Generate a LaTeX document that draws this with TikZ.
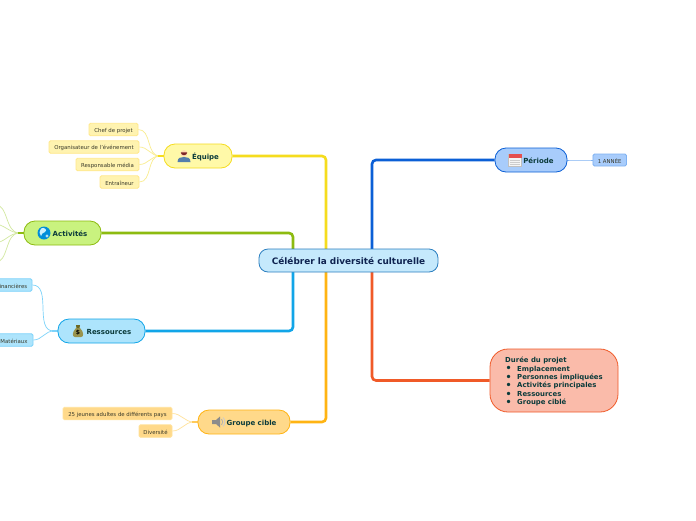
\documentclass[tikz,border=0pt]{standalone}
\usepackage{fontspec}
\setmainfont{DejaVu Sans}
\usetikzlibrary{backgrounds}
\definecolor{ctext}{HTML}{0F2350}
\definecolor{mtext}{HTML}{0B3B3B}
\definecolor{ltext}{HTML}{3A3A2A}
\definecolor{cfill}{HTML}{C5E9FC}\definecolor{cline}{HTML}{2B7FC0}
\definecolor{yfill}{HTML}{FFF9A8}\definecolor{yline}{HTML}{F5DC1E}\definecolor{ylf}{HTML}{FFF3B0}\definecolor{yll}{HTML}{FFE88A}
\definecolor{gfill}{HTML}{C9F27F}\definecolor{gline}{HTML}{8DBB10}\definecolor{gll}{HTML}{D2E8A0}
\definecolor{bfill}{HTML}{ADE4FC}\definecolor{bline}{HTML}{11A5E8}\definecolor{blf}{HTML}{ADE4FC}\definecolor{bll}{HTML}{7DD3FA}
\definecolor{ofill}{HTML}{FFD98A}\definecolor{oline}{HTML}{FFB413}\definecolor{oll}{HTML}{FFE29A}
\definecolor{pfill}{HTML}{A8CCFB}\definecolor{pline}{HTML}{0B5FD6}\definecolor{pll}{HTML}{7FB2F2}
\definecolor{rfill}{HTML}{FABBAA}\definecolor{rline}{HTML}{F05A28}
\newcommand{\lowered}[1]{\raisebox{-1.2pt}[\height][\depth]{#1}}
\newcommand{\bul}{\makebox[12pt][l]{\hspace*{0.5pt}\raisebox{-0.6pt}[0pt][0pt]{\fontsize{9.5}{8}\selectfont •}}}
\tikzset{
  central/.style={draw=cline,fill=cfill,line width=0.8pt,rounded corners=9pt,text=ctext,font=\bfseries\fontsize{8.9}{11}\selectfont,inner sep=0pt},
  mainnode/.style={rounded corners=11pt,line width=0.8pt,text=mtext,font=\bfseries\fontsize{7}{8.5}\selectfont,inner sep=0pt},
  leaf/.style={rounded corners=1.5pt,line width=0.8pt,text=ltext,font=\fontsize{5.4}{6}\selectfont,inner sep=0pt},
  branch/.style={line width=2.6pt,rounded corners=4pt},
  twig/.style={line width=0.7pt},
  stub/.style={line width=1.4pt},
}
\begin{document}
\begin{tikzpicture}[x=1pt,y=-1pt]
\useasboundingbox (0,0) rectangle (696,520);
\clip (0,0) rectangle (696,520);
% central
\node[central,minimum width=179pt,minimum height=23pt] (ctr) at (348.5,260.5) {\raisebox{-0.5pt}[\height][\depth]{Célébrer la diversité culturelle}};
\coordinate (cY) at (326,260);\coordinate (cG) at (293,260);\coordinate (cP) at (372,260);
% main nodes
\node[mainnode,draw=yline,fill=yfill,minimum width=68pt,minimum height=24pt] (eq) at (198,156) {\hspace*{15pt}\lowered{Équipe}};
\node[mainnode,draw=gline,fill=gfill,minimum width=77pt,minimum height=24pt] (ac) at (62.5,233) {\hspace*{15pt}\lowered{Activités}};
\node[mainnode,draw=bline,fill=bfill,minimum width=87pt,minimum height=24pt] (re) at (101.5,331) {\hspace*{15pt}\lowered{Ressources}};
\node[mainnode,draw=oline,fill=ofill,minimum width=92pt,minimum height=24pt] (gr) at (244,422) {\hspace*{15pt}\lowered{Groupe cible}};
\node[mainnode,draw=pline,fill=pfill,minimum width=72pt,minimum height=24pt] (pe) at (531,160) {\hspace*{15pt}\lowered{Période}};
\node[mainnode,draw=rline,fill=rfill,rounded corners=18pt,minimum width=128pt,minimum height=63pt,align=left,font=\bfseries\fontsize{6.9}{8.45}\selectfont] (du) at (554,380.5)
 {\lowered{Durée du projet}\\
  \lowered{\bul Emplacement}\\
  \lowered{\bul Personnes impliquées}\\
  \lowered{\bul Activités principales}\\
  \lowered{\bul Ressources}\\
  \lowered{\bul Groupe ciblé}};
% leaves
\node[leaf,draw=yll,fill=ylf,minimum width=49pt,minimum height=12.5pt] (l1) at (113.5,129.5) {\lowered{Chef de projet}};
\node[leaf,draw=yll,fill=ylf,minimum width=90pt,minimum height=12.5pt] (l2) at (94,147) {\lowered{Organisateur de l'événement}};
\node[leaf,draw=yll,fill=ylf,minimum width=63pt,minimum height=12.5pt] (l3) at (107.5,164.5) {\lowered{Responsable média}};
\node[leaf,draw=yll,fill=ylf,minimum width=39pt,minimum height=12.5pt] (l4) at (119.5,182) {\lowered{Entraîneur}};
\node[leaf,draw=bll,fill=blf,minimum width=40pt,minimum height=12.5pt] (r1) at (12,285) {\lowered{Financières}};
\node[leaf,draw=bll,fill=blf,minimum width=38pt,minimum height=12.5pt] (r2) at (14,340) {\lowered{Matériaux}};
\node[leaf,draw=oll,fill=ofill,minimum width=109pt,minimum height=12.5pt] (g1) at (117.5,413.5) {\lowered{25 jeunes adultes de différents pays}};
\node[leaf,draw=oll,fill=ofill,minimum width=33pt,minimum height=12.5pt] (g2) at (155.5,431) {\lowered{Diversité}};
\node[leaf,draw=pll,fill=pfill,minimum width=33.5pt,minimum height=12pt] (p1) at (609.7,160) {\lowered{1 ANNÉE}};
\coordinate (a1) at (-6,204);\coordinate (a2) at (-6,224);\coordinate (a3) at (-6,243);\coordinate (a4) at (-6,263);
% connectors
\begin{pgfonlayer}{background}
\fill[white] (0,0) rectangle (696,520);
\draw[branch,yline] (eq.east) -| (cY);
\draw[branch,oline] (gr.east) -| (cY);
\draw[branch,gline] (ac.east) -| (cG);
\draw[branch,bline] (re.east) -| (cG);
\draw[branch,pline] (pe.west) -| (cP);
\draw[branch,rline] (du.west) -| (cP);
\draw[twig,yline!50!white] (l1.east) to[out=0,in=180] ([xshift=-4pt]eq.west);
\draw[twig,yline!50!white] (l2.east) to[out=0,in=180] ([xshift=-4pt]eq.west);
\draw[twig,yline!50!white] (l3.east) to[out=0,in=180] ([xshift=-4pt]eq.west);
\draw[twig,yline!50!white] (l4.east) to[out=0,in=180] ([xshift=-4pt]eq.west);
\draw[stub,yline] ([xshift=-6pt]eq.west) -- (eq.west);
\draw[twig,gll] (a1) to[out=0,in=180] ([xshift=-4pt]ac.west);
\draw[twig,gll] (a2) to[out=0,in=180] ([xshift=-4pt]ac.west);
\draw[twig,gll] (a3) to[out=0,in=180] ([xshift=-4pt]ac.west);
\draw[twig,gll] (a4) to[out=0,in=180] ([xshift=-4pt]ac.west);
\draw[stub,gline] ([xshift=-6pt]ac.west) -- (ac.west);
\draw[twig,bll] (r1.east) to[out=0,in=180] ([xshift=-4pt]re.west);
\draw[twig,bll] (r2.east) to[out=0,in=180] ([xshift=-4pt]re.west);
\draw[stub,bll] ([xshift=-6pt]re.west) -- (re.west);
\draw[twig,oll] (g1.east) to[out=0,in=180] ([xshift=-4pt]gr.west);
\draw[twig,oll] (g2.east) to[out=0,in=180] ([xshift=-4pt]gr.west);
\draw[stub,oline!70!white] ([xshift=-6pt]gr.west) -- (gr.west);
\draw[twig,pll] (pe.east) to[out=0,in=180] (p1.west);
\end{pgfonlayer}
% icons
\begin{scope}[shift={(184,156)}]
 \fill[fill=cyan!60!blue!70!black!85!white] (-6.5,6) .. controls (-6.5,1.5) and (-3,1) .. (0,1) .. controls (3,1) and (6.5,1.5) .. (6.5,6) -- cycle;
 \fill[fill=orange!30!white] (0,-2.5) circle (3.4pt);
 \fill[fill=red!40!black!85!white] (-3.2,-3.6) arc (180:0:3.2 and 2.8) -- cycle;
\end{scope}
\begin{scope}[shift={(44,233)}]
 \fill[fill=blue!35!cyan!85!black] (0,0) circle (6.5pt);
 \fill[fill=cyan!20!white] (-3,-4.5) .. controls (0,-6.5) and (4,-3) .. (1,-1) .. controls (-1,0) and (-3,1) .. (-3,3) .. controls (-5,1) and (-5,-2) .. (-3,-4.5) -- cycle;
 \fill[fill=white,opacity=.7] (3,3) circle (1.6pt);
\end{scope}
\begin{scope}[shift={(78,331)}]
 \fill[fill=olive!70!black!70!white] (-2,-3) .. controls (-6,1) and (-6,6) .. (-3,6) -- (3,6) .. controls (6,6) and (6,1) .. (2,-3) -- cycle;
 \fill[fill=olive!70!black] (-2,-6) -- (2,-6) -- (1.5,-3) -- (-1.5,-3) -- cycle;
 \node[font=\bfseries\fontsize{6}{6}\selectfont,text=black,inner sep=0pt] (dollar) at (0,1.5) {\$};
\end{scope}
\begin{scope}[shift={(218,422)}]
 \fill[gray!90!white] (-6,-2) -- (-2,-2) -- (2,-5.5) -- (2,5.5) -- (-2,2) -- (-6,2) -- cycle;
 \draw[gray!60!white,line width=0.9pt] (3.5,-3) arc (-45:45:4.2);
 \draw[gray!40!white,line width=0.9pt] (5,-4.5) arc (-45:45:6.3);
\end{scope}
\begin{scope}[shift={(515,160)}]
 \fill[white!92!gray] (-6.5,-6) rectangle (6.5,6.5);
 \draw[gray!50!white,line width=0.4pt] (-6.5,-6) rectangle (6.5,6.5);
 \fill[red!65!white!90!black] (-6.5,-6.5) rectangle (6.5,-2);
 \foreach \yy in {0.5,2.5,4.5} \draw[gray!40!white,line width=0.4pt] (-5,\yy) -- (5,\yy);
\end{scope}
\end{tikzpicture}
\end{document}
